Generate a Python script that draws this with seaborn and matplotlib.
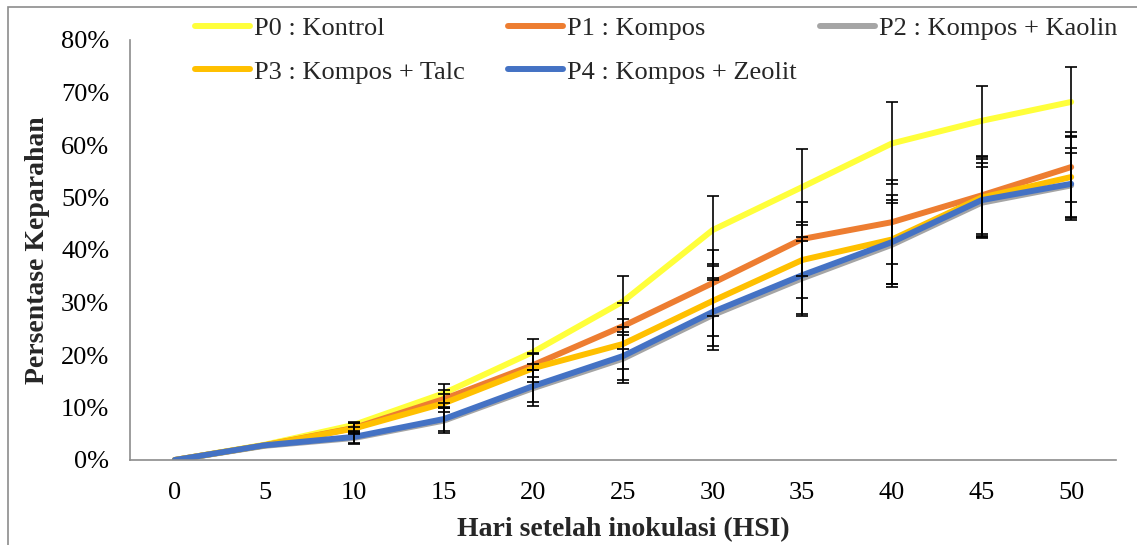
import numpy as np
import pandas as pd
import matplotlib.pyplot as plt
import matplotlib.patches as mpatches
import seaborn as sns

# Data (percent of severity)
hsi = [0, 5, 10, 15, 20, 25, 30, 35, 40, 45, 50]
series_names = ["P0 : Kontrol", "P1 : Kompos", "P2 : Kompos + Kaolin",
                "P3 : Kompos + Talc", "P4 : Kompos + Zeolit"]
p0 = [0, 2.9, 6.7, 12.7, 20.6, 30.2, 43.8, 52.0, 60.3, 64.6, 68.2]
p1 = [0, 2.8, 6.1, 11.6, 18.1, 25.5, 33.7, 42.1, 45.3, 50.4, 55.8]
p2 = [0, 2.7, 4.2, 7.5, 13.7, 19.3, 27.6, 34.6, 41.0, 49.0, 52.3]
p3 = [0, 2.8, 6.0, 10.8, 17.5, 22.1, 30.3, 38.1, 42.0, 50.0, 53.9]
p4 = [0, 2.8, 4.4, 7.8, 14.1, 19.8, 28.2, 35.2, 41.5, 49.5, 52.6]
err_p0 = [0, 0, 0.5, 1.8, 2.4, 4.8, 6.5, 7.2, 7.8, 6.6, 6.7]
err_p1 = [0, 0, 1.0, 1.7, 2.3, 4.4, 6.3, 7.0, 8.0, 7.4, 6.6]
err_p2 = [0, 0, 1.1, 2.4, 3.4, 4.6, 6.7, 7.2, 8.0, 6.8, 6.1]
err_p3 = [0, 0, 1.0, 1.7, 2.6, 4.8, 6.7, 7.2, 8.5, 7.4, 7.8]
err_p4 = [0, 0, 1.2, 2.3, 3.0, 4.6, 6.5, 7.3, 8.0, 7.0, 6.8]
colors = ["#FFFF3B", "#ED7D31", "#A5A5A5", "#FFC000", "#4472C4"]

values = [p0, p1, p2, p3, p4]
errors = [err_p0, err_p1, err_p2, err_p3, err_p4]

df = pd.DataFrame({
    "HSI": hsi * len(series_names),
    "value": np.concatenate(values) / 100.0,
    "err": np.concatenate(errors) / 100.0,
    "series": np.repeat(series_names, len(hsi)),
})

sns.set_style("white")
plt.rcParams["font.family"] = ["Liberation Serif", "DejaVu Serif"]

W, H = 1137, 545
fig = plt.figure(figsize=(W / 100, H / 100), dpi=100)
ax = fig.add_axes([130 / W, 1 - 460 / H, (1116 - 130) / W, 420 / H])

sns.lineplot(data=df, x="HSI", y="value", hue="series", hue_order=series_names,
             palette=colors, linewidth=4.3, ax=ax, legend=False,
             solid_capstyle="round", zorder=2)

# error bars on top of lines
for name in series_names:
    sub = df[(df["series"] == name) & (df["err"] > 0)]
    ax.errorbar(sub["HSI"], sub["value"], yerr=sub["err"], fmt="none",
                ecolor="black", elinewidth=1.2, capsize=4, capthick=1.2, zorder=3)

ax.set_xlim(-2.5, 52.5)
ax.set_ylim(0, 0.8)
ax.set_xticks(hsi)
ax.set_yticks(np.arange(0, 0.81, 0.1))
ax.set_yticklabels([f"{int(round(v * 100))}%" for v in np.arange(0, 0.81, 0.1)])

for s in ["top", "right"]:
    ax.spines[s].set_visible(False)
for s in ["left", "bottom"]:
    ax.spines[s].set_color("#8C8C8C")
    ax.spines[s].set_linewidth(1.2)
ax.tick_params(axis="both", direction="inout", length=12, width=1.2,
               color="#8C8C8C", labelsize=19, labelcolor="black")
ax.tick_params(axis="y", pad=9)
ax.tick_params(axis="x", pad=10)

ax.set_xlabel("Hari setelah inokulasi (HSI)", fontsize=20, fontweight="bold", labelpad=9)
ax.set_ylabel("Persentase Keparahan", fontsize=20, fontweight="bold", labelpad=8)

# legend: one small legend per column so the columns sit where they do in the reference
handles = [plt.Line2D([0], [0], color=c, lw=4.3, solid_capstyle="round") for c in colors]
columns = [([0, 3], 195), ([1, 4], 508), ([2], 820)]
for idx, x0 in columns:
    fig.legend([handles[i] for i in idx], [series_names[i] for i in idx],
               loc="upper left", bbox_to_anchor=(x0 / W, 1 - 17 / H),
               frameon=False, fontsize=19, handlelength=2.1, handletextpad=0.15,
               labelspacing=0.75, borderpad=0, borderaxespad=0)

# thin outer frame
fig.patches.append(mpatches.Rectangle((8 / W, -0.1), 1.2, (H - 7) / H + 0.1,
                                      transform=fig.transFigure, fill=False,
                                      edgecolor="#8C8C8C", linewidth=1.2))

fig.savefig("out.png", dpi=100)
